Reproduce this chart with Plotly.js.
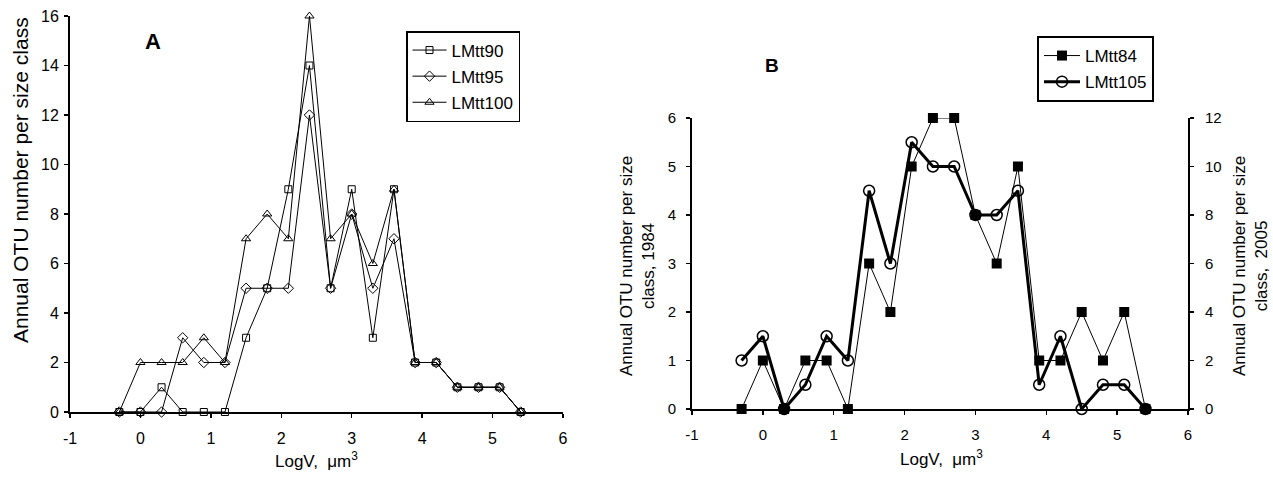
<!DOCTYPE html>
<html>
<head>
<meta charset="utf-8">
<script src="https://cdn.plot.ly/plotly-3.0.1.min.js"></script>
<style>html,body{margin:0;padding:0;background:#fff;}#chart{width:1273px;height:483px;}</style>
</head>
<body>
<div id="chart"></div>
<script>
// Size classes (LogV, µm^3)
const logV = [-0.3, 0, 0.3, 0.6, 0.9, 1.2, 1.5, 1.8, 2.1, 2.4, 2.7, 3.0, 3.3, 3.6, 3.9, 4.2, 4.5, 4.8, 5.1, 5.4];
// Panel A
const LMtt90  = [0, 0, 1, 0, 0, 0, 3, 5, 9, 14, 5, 9, 3, 9, 2, 2, 1, 1, 1, 0];
const LMtt95  = [0, 0, 0, 3, 2, 2, 5, 5, 5, 12, 5, 8, 5, 7, 2, 2, 1, 1, 1, 0];
const LMtt100 = [0, 2, 2, 2, 3, 2, 7, 8, 7, 16, 7, 8, 6, 9, 2, 2, 1, 1, 1, 0];
// Panel B
const LMtt84  = [0, 1, 0, 1, 1, 0, 3, 2, 5, 6, 6, 4, 3, 5, 1, 1, 2, 1, 2, 0];
const LMtt105 = [2, 3, 0, 1, 3, 2, 9, 6, 11, 10, 10, 8, 8, 9, 1, 3, 0, 1, 1, 0];
// Tick labels
const xTickVals = [-1, 0, 1, 2, 3, 4, 5, 6];
const xTickText = ['-1', '0', '1', '2', '3', '4', '5', '6'];

const W = 1273, H = 483;
const px = v => v / W;
const py = v => 1 - v / H;
const FONT = 'Liberation Sans, Arial, sans-serif';

const thin = {color: '#000', width: 1};
const traces = [
  {x: logV, y: LMtt90, name: 'LMtt90', type: 'scatter', mode: 'lines+markers', xaxis: 'x', yaxis: 'y',
   line: thin, marker: {symbol: 'square-open', size: 7, color: '#000', line: {width: 1, color: '#000'}},
   cliponaxis: false, legend: 'legend', legendgroup: 'a1'},
  {x: logV, y: LMtt95, name: 'LMtt95', type: 'scatter', mode: 'lines+markers', xaxis: 'x', yaxis: 'y',
   line: thin, marker: {symbol: 'diamond-open', size: 8, color: '#000', line: {width: 1, color: '#000'}},
   cliponaxis: false, legend: 'legend', legendgroup: 'a2'},
  {x: logV, y: LMtt100, name: 'LMtt100', type: 'scatter', mode: 'lines+markers', xaxis: 'x', yaxis: 'y',
   line: thin, marker: {symbol: 'triangle-up-open', size: 8, color: '#000', line: {width: 1, color: '#000'}},
   cliponaxis: false, legend: 'legend', legendgroup: 'a3'},
  {x: logV, y: LMtt84, name: 'LMtt84', type: 'scatter', mode: 'lines+markers', xaxis: 'x2', yaxis: 'y2',
   line: thin, marker: {symbol: 'square', size: 10, color: '#000'},
   cliponaxis: false, legend: 'legend2', legendgroup: 'b1'},
  {x: logV, y: LMtt105, name: 'LMtt105', type: 'scatter', mode: 'lines+markers', xaxis: 'x2', yaxis: 'y3',
   line: {color: '#000', width: 3}, marker: {symbol: 'circle-open', size: 11, color: '#000', line: {width: 1.5, color: '#000'}},
   cliponaxis: false, legend: 'legend2', legendgroup: 'b2'}
];

const axBase = {
  showline: true, linecolor: '#000', linewidth: 2, mirror: false,
  showgrid: false, zeroline: false, ticks: 'outside', ticklen: 4, tickwidth: 1.5, tickcolor: '#000',
  tickfont: {family: FONT, size: 16, color: '#000'}, fixedrange: true
};
const f15 = {family: FONT, size: 15, color: '#000'};

const layout = {
  width: W, height: H, autosize: false,
  margin: {l: 0, r: 0, t: 0, b: 0, pad: 0},
  paper_bgcolor: '#fff', plot_bgcolor: 'rgba(0,0,0,0)',
  font: {family: FONT, color: '#000'},
  xaxis: Object.assign({}, axBase, {domain: [px(70), px(563)], anchor: 'y', range: [-1, 6],
    tickmode: 'array', tickvals: xTickVals, ticktext: xTickText, ticklabelstandoff: 7}),
  yaxis: Object.assign({}, axBase, {domain: [1 - 412 / H, 1 - 16 / H], anchor: 'x', range: [0, 16], dtick: 2, tick0: 0, ticklabelstandoff: 2}),
  xaxis2: Object.assign({}, axBase, {domain: [px(692), px(1188)], anchor: 'y2', range: [-1, 6],
    tickmode: 'array', tickvals: xTickVals, ticktext: xTickText, ticklabelstandoff: 7, tickfont: f15}),
  yaxis2: Object.assign({}, axBase, {domain: [1 - 409 / H, 1 - 118 / H], anchor: 'x2', range: [0, 6], dtick: 1, tick0: 0,
    tickfont: f15, ticklabelstandoff: 7}),
  yaxis3: Object.assign({}, axBase, {overlaying: 'y2', side: 'right', anchor: 'x2', range: [0, 12], dtick: 2, tick0: 0,
    tickfont: f15, ticklabelstandoff: 8}),
  legend: {x: px(406), y: py(31), xanchor: 'left', yanchor: 'top', bgcolor: '#fff', bordercolor: '#000', borderwidth: 1.5,
    font: {family: FONT, size: 17, color: '#000'}, tracegroupgap: 1, traceorder: 'grouped', itemwidth: 34},
  legend2: {x: px(1037), y: py(36), xanchor: 'left', yanchor: 'top', bgcolor: '#fff', bordercolor: '#000', borderwidth: 2,
    font: {family: FONT, size: 17, color: '#000'}, tracegroupgap: 1, traceorder: 'grouped', itemwidth: 36},
  showlegend: true,
  annotations: [
    {text: '<b>A</b>', x: px(153), y: py(42), xanchor: 'center', yanchor: 'middle', xref: 'paper', yref: 'paper', showarrow: false, font: {family: FONT, size: 22}},
    {text: '<b>B</b>', x: px(772), y: py(65), xanchor: 'center', yanchor: 'middle', xref: 'paper', yref: 'paper', showarrow: false, font: {family: FONT, size: 19}},
    {text: 'Annual OTU number per size class', textangle: -90, x: px(20), y: py(180), xanchor: 'center', yanchor: 'middle',
     xref: 'paper', yref: 'paper', showarrow: false, font: {family: FONT, size: 21}},
    {text: 'Annual OTU number per size<br>class, 1984', textangle: -90, x: px(637), y: py(266), xanchor: 'center', yanchor: 'middle',
     xref: 'paper', yref: 'paper', showarrow: false, font: {family: FONT, size: 17}},
    {text: 'Annual OTU number per size<br>class,  2005', textangle: -90, x: px(1250), y: py(266), xanchor: 'center', yanchor: 'middle',
     xref: 'paper', yref: 'paper', showarrow: false, font: {family: FONT, size: 17}},
    {text: 'LogV,  \u03bcm<sup>3</sup>', x: px(316), y: py(460), xanchor: 'center', yanchor: 'middle', xref: 'paper', yref: 'paper', showarrow: false,
     font: {family: FONT, size: 17}},
    {text: 'LogV,  \u03bcm<sup>3</sup>', x: px(942), y: py(458), xanchor: 'center', yanchor: 'middle', xref: 'paper', yref: 'paper', showarrow: false,
     font: {family: FONT, size: 17}}
  ]
};

Plotly.newPlot('chart', traces, layout, {staticPlot: true, displayModeBar: false});
</script>
</body>
</html>
